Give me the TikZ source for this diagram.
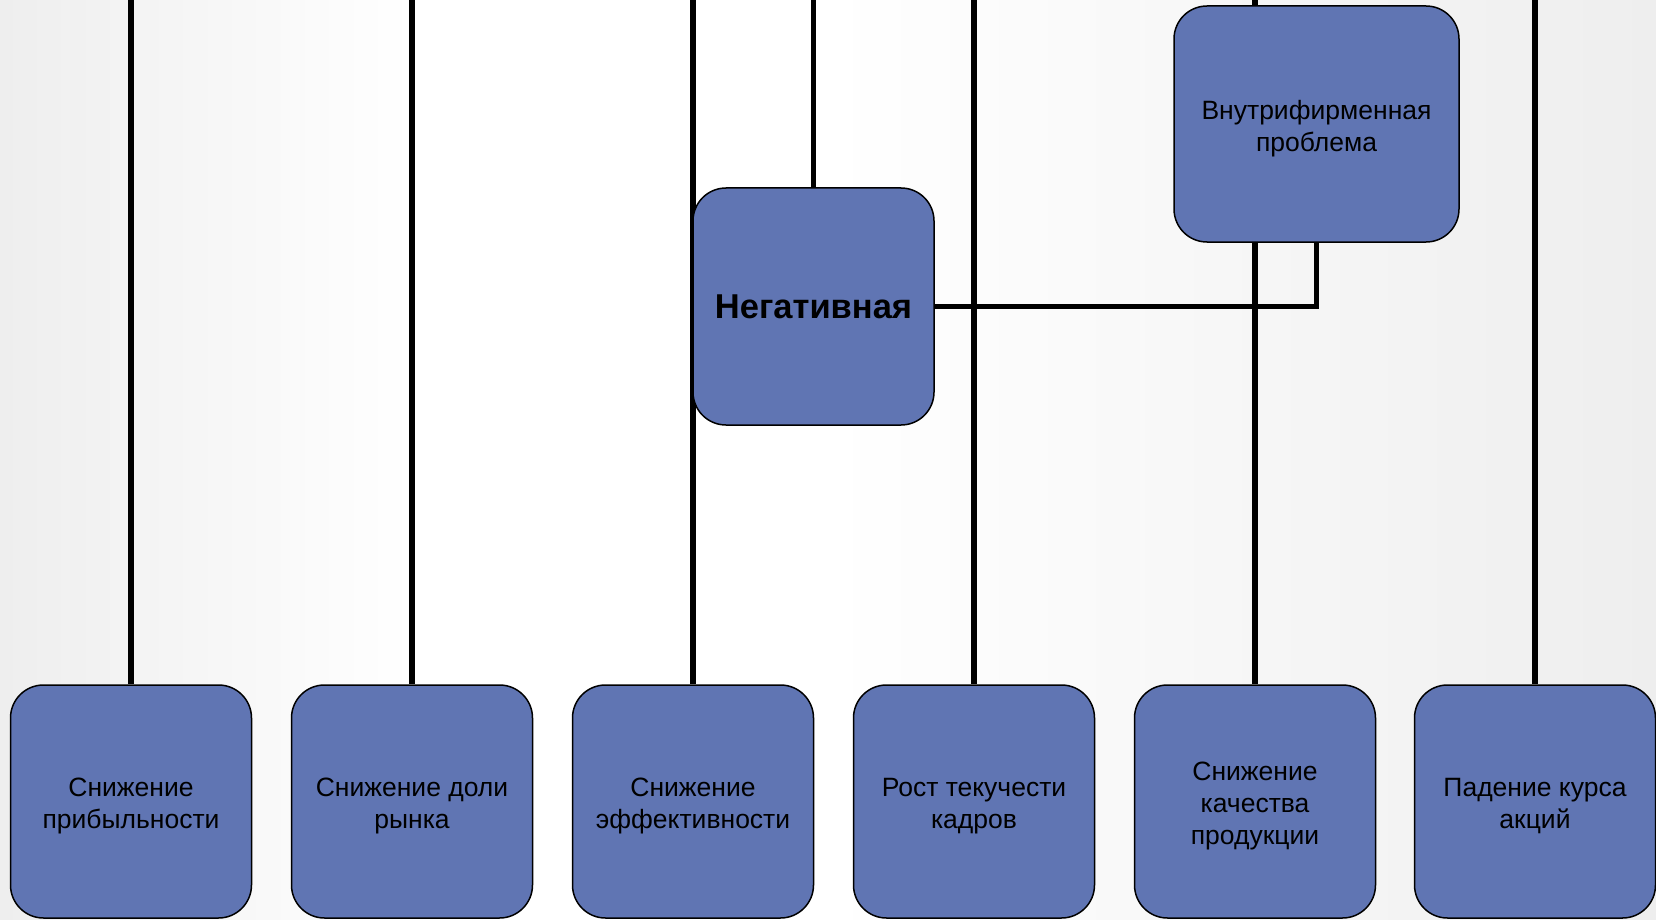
\documentclass[tikz,border=0pt]{standalone}
\usepackage{fontspec}
\setmainfont{Liberation Sans}
\definecolor{boxfill}{RGB}{96,117,179}
\definecolor{edgegray}{RGB}{238,238,238}
\pgfdeclarelayer{bg}
\pgfdeclarelayer{wires}
\pgfsetlayers{bg,wires,main}
\tikzset{
  card/.style={draw=black, line width=1.5pt, fill=boxfill, rounded corners=33pt,
    inner sep=0pt},
  cardtext/.style={align=center, inner sep=0pt, yshift=-4.5pt,
    font=\fontsize{26.5}{32}\selectfont},
  lowcard/.style={card, minimum width=241pt, minimum height=233pt},
  wire/.style={draw=black, line width=5.5pt}
}
\begin{document}
\begin{tikzpicture}[x=1pt, y=-1pt]
\useasboundingbox (0,0) rectangle (1656,920);
\begin{pgfonlayer}{bg}
  \shade[left color=edgegray, right color=white, middle color=white, shading angle=90]
    (0,0) rectangle (828,920);
  \shade[left color=white, right color=edgegray]
    (828,0) rectangle (1656,920);
\end{pgfonlayer}

% effects along the bottom row
\node[lowcard, label={[cardtext]center:{Снижение\\прибыльности}}] (b1) at (131,801.5) {};
\node[lowcard, label={[cardtext]center:{Снижение доли\\рынка}}] (b2) at (412,801.5) {};
\node[lowcard, label={[cardtext]center:{Снижение\\эффективности}}] (b3) at (693,801.5) {};
\node[lowcard, label={[cardtext]center:{Рост текучести\\кадров}}] (b4) at (974,801.5) {};
\node[lowcard, label={[cardtext]center:{Снижение\\качества\\продукции}}] (b5) at (1255,801.5) {};
\node[lowcard, label={[cardtext]center:{Падение курса\\акций}}] (b6) at (1535,801.5) {};

% classification boxes
\node[card, minimum width=241pt, minimum height=237pt,
      font=\fontsize{34.5}{40}\selectfont\bfseries] (neg) at (813.5,306.5) {Негативная};
\node[card, minimum width=285pt, minimum height=236pt,
      label={[cardtext]center:{Внутрифирменная\\проблема}}] (inner) at (1316.5,124) {};

% entry points at the top edge
\foreach \n/\x in {1/131, 2/412, 3/693, 4/974, 5/1255, 6/1535, n/813.5}
  \coordinate (top\n) at (\x,0);

\begin{pgfonlayer}{wires}
  \foreach \n in {1,...,6}
    \draw[wire] (top\n) -- (b\n.north);
  \draw[wire] (topn) -- (neg.north);
  \draw[wire] (neg.east) -| (inner.south);
\end{pgfonlayer}
\end{tikzpicture}
\end{document}
